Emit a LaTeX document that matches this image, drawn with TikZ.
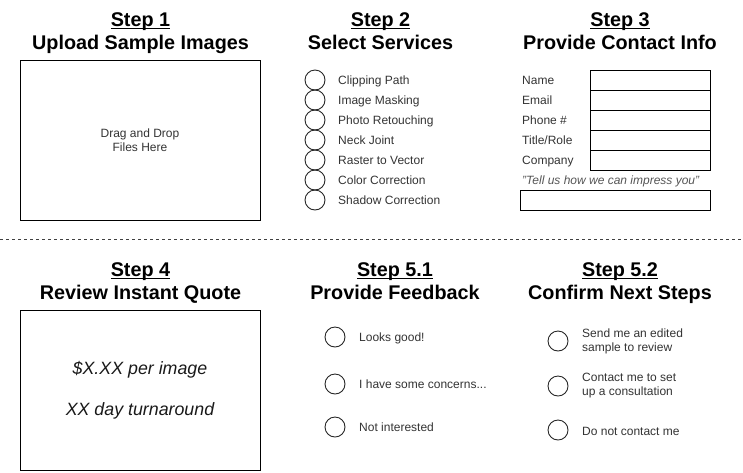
\documentclass[tikz,border=0pt]{standalone}
\usepackage{fontspec}
\setmainfont{Liberation Sans}
\definecolor{txtgray}{HTML}{333333}
\definecolor{quotegray}{HTML}{555555}
\newcommand{\stepul}[1]{\underline{\raisebox{0pt}[\height][0pt]{#1}}}

\begin{document}
\begin{tikzpicture}[x=1pt,y=-1pt,
title/.style={font=\bfseries\fontsize{19.8}{22.5}\selectfont,align=center,anchor=north,inner sep=0pt},
lbl/.style={font=\fontsize{12}{14}\selectfont,text=txtgray,anchor=west,inner sep=0pt,text height=8.6pt,text depth=0pt},
lbltwo/.style={font=\fontsize{12}{14}\selectfont,text=txtgray,anchor=west,inner sep=0pt,align=left},
box/.style={draw,line width=1pt,inner sep=0pt},
radio/.style={draw=black!85,circle,line width=0.9pt,minimum size=20pt,inner sep=0pt}]
\useasboundingbox (0,0) rectangle (743,472);
% top row
\node[title] (t1) at (140.5,12.8) {\stepul{Step 1}\\Upload Sample Images};
\node[title] (t2) at (380.5,12.8) {\stepul{Step 2}\\Select Services};
\node[title] (t3) at (620,12.8) {\stepul{Step 3}\\Provide Contact Info};
\node[box,minimum width=240pt,minimum height=160pt,align=center,font=\fontsize{12}{14}\selectfont,text=txtgray] (drop) at (140,140) {Drag and Drop\\Files Here};
\foreach \t [count=\i] in {Clipping Path,Image Masking,Photo Retouching,Neck Joint,Raster to Vector,Color Correction,Shadow Correction}{
  \node[radio] (s\i) at (315,60+20*\i) {};
  \node[lbl] (sl\i) at (338,60+20*\i) {\t};
}
\foreach \t [count=\i] in {Name,Email,Phone \#,Title/Role,Company}{
  \node[lbl] (cl\i) at (522,60+20*\i) {\t};
  \node[box,minimum width=120pt,minimum height=20pt] (cf\i) at (650,60+20*\i) {};
}
\node[lbl,text=quotegray,font=\itshape\fontsize{12}{14}\selectfont] (imp) at (522,180) {"Tell us how we can impress you"};
\node[box,minimum width=190pt,minimum height=20pt] (impf) at (615,200) {};
% divider
\coordinate (dl) at (0,239);
\coordinate (dr) at (743,239);
\draw[black!75,dash pattern=on 3pt off 3pt] (dl)--(dr);
% bottom row
\node[title] (t4) at (140.5,262.8) {\stepul{Step 4}\\Review Instant Quote};
\node[title] (t51) at (395,262.8) {\stepul{Step 5.1}\\Provide Feedback};
\node[title] (t52) at (620,262.8) {\stepul{Step 5.2}\\Confirm Next Steps};
\node[box,minimum width=240pt,minimum height=160pt,align=center,font=\itshape\fontsize{17.8}{41}\selectfont,text=black!90] (quote) at (140,390) {\$X.XX per image\\XX day turnaround};
\foreach \t/\y [count=\i] in {{Looks good!}/337,{I have some concerns...}/384,{Not interested}/427}{
  \node[radio] (f\i) at (335,\y) {};
  \node[lbl] (fl\i) at (359,\y) {\t};
}
\foreach \t/\y [count=\i] in {{Send me an edited\\sample to review}/341,{Contact me to set\\up a consultation}/386}{
  \node[radio] (n\i) at (558,\y) {};
  \node[lbltwo] (nl\i) at (582,\y) {\t};
}
\node[radio] (n3) at (558,430) {};
\node[lbl] (nl3) at (582,431) {Do not contact me};
\end{tikzpicture}
\end{document}
